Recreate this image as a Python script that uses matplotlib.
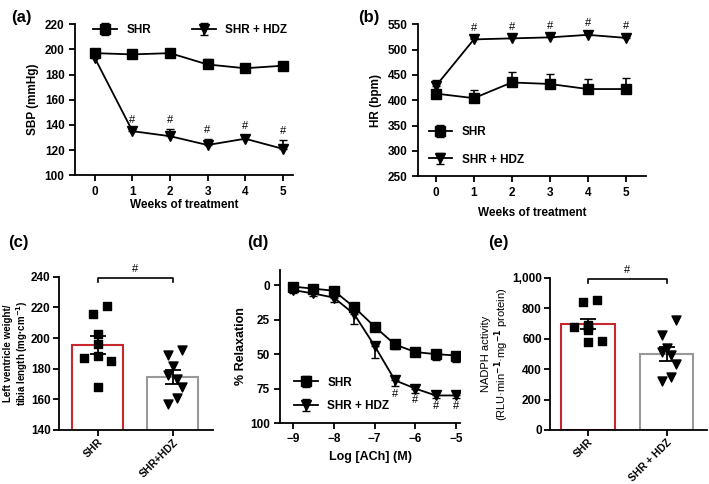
import matplotlib
matplotlib.use("Agg")
import matplotlib.pyplot as plt
import numpy as np

plt.rcParams['font.family'] = ['Liberation Sans', 'DejaVu Sans']
plt.rcParams['font.weight'] = 'bold'
plt.rcParams['axes.labelweight'] = 'bold'
plt.rcParams['font.size'] = 8

# (a) systolic blood pressure
weeks = [0, 1, 2, 3, 4, 5]
sbp_shr = [197, 196, 197, 188, 185, 187]
sbp_shr_err = [2, 3, 2, 4, 2, 2]
sbp_hdz = [193, 135, 131, 124, 129, 121]
sbp_hdz_err = [2, 2, 6, 5, 3, 7]

# (b) heart rate
hr_shr = [413, 404, 435, 432, 422, 422]
hr_shr_err = [6, 16, 20, 19, 20, 21]
hr_hdz = [428, 520, 522, 524, 529, 523]
hr_hdz_err = [12, 3, 3, 3, 3, 3]

# (c) LV weight / tibia length
lv_shr = [221, 216, 203, 196, 187, 188, 185, 168]
lv_hdz = [192, 189, 182, 176, 173, 168, 161, 157]
lv_sem = [6, 4.4]

# (d) ACh relaxation
log_ach = [-9, -8.5, -8, -7.5, -7, -6.5, -6, -5.5, -5]
rel_shr = [1, 2.5, 4, 16, 30, 43, 48.5, 50, 51]
rel_shr_err = [2, 2, 2, 3, 3, 3, 3, 4, 5]
rel_hdz = [3.5, 6, 9, 21, 44, 69, 75, 80, 80]
rel_hdz_err = [2, 2, 3, 7, 9, 4, 3, 2, 2]

# (e) NADPH activity
nadph_shr = [855, 840, 690, 680, 680, 660, 585, 575]
nadph_hdz = [725, 625, 540, 515, 495, 435, 345, 320]
nadph_sem = [35, 45]

fig = plt.figure(figsize=(7.09, 4.84), dpi=100)


def style(ax):
    for s in ['top', 'right']:
        ax.spines[s].set_visible(False)
    for s in ['left', 'bottom']:
        ax.spines[s].set_linewidth(1.3)
    ax.tick_params(width=1.3, length=4, labelsize=8.5)


def line_panel(ax, x, y1, e1, y2, e2):
    ax.errorbar(x, y1, yerr=[np.zeros(len(e1)), e1], color='black', marker='s',
                ms=7, lw=1.3, capsize=3, elinewidth=1.2, label='SHR')
    ax.errorbar(x, y2, yerr=[np.zeros(len(e2)), e2], color='black', marker='v',
                ms=7.5, lw=1.3, capsize=3, elinewidth=1.2, label='SHR + HDZ')


def hashes(ax, xs, ys, va):
    for x, y in zip(xs, ys):
        ax.text(x, y, '#', ha='center', va=va, fontsize=8, fontweight='normal')


# (a)
ax = fig.add_axes([0.1058, 0.638, 0.3072, 0.312])
line_panel(ax, weeks, sbp_shr, sbp_shr_err, sbp_hdz, sbp_hdz_err)
ax.set_xlim(-0.53, 5.27)
ax.set_ylim(100, 220)
ax.set_yticks(range(100, 221, 20))
ax.set_xticks(weeks)
ax.set_xlabel('Weeks of treatment', fontsize=8.5, labelpad=1)
ax.set_ylabel('SBP (mmHg)', fontsize=8.5)
hashes(ax, weeks[1:], [v + e + 3 for v, e in zip(sbp_hdz[1:], sbp_hdz_err[1:])], 'bottom')
ax.legend(loc='upper center', bbox_to_anchor=(0.53, 1.07), ncol=2, frameon=False,
          fontsize=8.5, handlelength=2, columnspacing=3.5)
style(ax)
fig.text(0.015, 0.955, '(a)', fontsize=12, fontweight='bold')

# (b)
ax = fig.add_axes([0.5896, 0.636, 0.3214, 0.314])
line_panel(ax, weeks, hr_shr, hr_shr_err, hr_hdz, hr_hdz_err)
ax.set_xlim(-0.47, 5.53)
ax.set_ylim(250, 550)
ax.set_yticks(range(250, 551, 50))
ax.set_xticks(weeks)
ax.set_xlabel('Weeks of treatment', fontsize=8.5, labelpad=6)
ax.set_ylabel('HR (bpm)', fontsize=8.5)
hashes(ax, weeks[1:], [v + e + 10 for v, e in zip(hr_hdz[1:], hr_hdz_err[1:])], 'bottom')
ax.legend(loc='lower left', bbox_to_anchor=(0.0, 0.0), frameon=False, fontsize=8.5,
          handlelength=2, labelspacing=1.3)
style(ax)
fig.text(0.505, 0.955, '(b)', fontsize=12, fontweight='bold')


def bar_panel(ax, a, b, sem, labels):
    means = [np.mean(a), np.mean(b)]
    ax.bar([0, 1], means, width=0.68, color='white', edgecolor=['#c8282d', '#999999'], lw=1.5)
    ax.errorbar([0, 1], means, yerr=sem, fmt='none', ecolor='black', capsize=6,
                elinewidth=1.3, capthick=1.3, zorder=4)
    xa = [0.12, -0.06, 0.0, 0.0, -0.18, 0.0, 0.18, 0.0]
    ax.scatter(np.array(xa), a, marker='s', s=36, color='black', zorder=5)
    xb = [0.12, -0.06, 0.0, -0.06, 0.06, 0.12, 0.06, -0.06]
    ax.scatter(1 + np.array(xb), b, marker='v', s=42, color='black', zorder=5)
    ax.set_xticks([0, 1])
    ax.set_xticklabels(labels, rotation=45, ha='right', rotation_mode='anchor')


# (c)
ax = fig.add_axes([0.0832, 0.1116, 0.2168, 0.3164])
bar_panel(ax, lv_shr, lv_hdz, lv_sem, ['SHR', 'SHR+HDZ'])
ax.set_xlim(-0.52, 1.53)
ax.set_ylim(140, 240)
ax.set_yticks(range(140, 241, 20))
ax.set_ylabel('Left ventricle weight/\ntibia length (mg·cm$^{-1}$)', fontsize=7, labelpad=1,
              linespacing=1.05)
ax.plot([0, 0, 1, 1], [236.5, 239.5, 239.5, 236.5], color='black', lw=1.2, clip_on=False)
ax.text(0.5, 242, '#', ha='center', va='bottom', fontsize=8, fontweight='normal')
style(ax)
ax.tick_params(axis='y', pad=2)
ax.tick_params(axis='x', labelsize=7.5, pad=1)
fig.text(0.012, 0.49, '(c)', fontsize=12, fontweight='bold')

# (d)
ax = fig.add_axes([0.395, 0.126, 0.254, 0.316])
line_panel(ax, log_ach, rel_shr, rel_shr_err, rel_hdz, rel_hdz_err)
ax.set_xlim(-9.32, -4.9)
ax.set_ylim(100, -11)
ax.set_yticks([0, 25, 50, 75, 100])
ax.set_xticks([-9, -8, -7, -6, -5])
ax.set_xticklabels(['\u22129', '\u22128', '\u22127', '\u22126', '\u22125'])
ax.set_xlabel('Log [ACh] (M)', fontsize=9, labelpad=4)
ax.set_ylabel('% Relaxation', fontsize=9, labelpad=2)
hashes(ax, log_ach[5:], [v + e + 2 for v, e in zip(rel_hdz[5:], rel_hdz_err[5:])], 'top')
ax.legend(loc='lower left', bbox_to_anchor=(0.02, 0.0), frameon=False, fontsize=8.5,
          handlelength=2, labelspacing=1.0)
style(ax)
fig.text(0.348, 0.49, '(d)', fontsize=12, fontweight='bold')

# (e)
ax = fig.add_axes([0.776, 0.1116, 0.221, 0.3144])
bar_panel(ax, nadph_shr, nadph_hdz, nadph_sem, ['SHR', 'SHR + HDZ'])
ax.set_xlim(-0.48, 1.51)
ax.set_ylim(0, 1000)
ax.set_yticks(range(0, 1001, 200))
ax.set_yticklabels(['0', '200', '400', '600', '800', '1,000'])
ax.set_ylabel('NADPH activity\n(RLU·min$^{-1}$·mg$^{-1}$ protein)', fontsize=8, labelpad=1,
              fontweight='normal', linespacing=1.05)
ax.plot([0, 0, 1, 1], [965, 995, 995, 965], color='black', lw=1.2, clip_on=False)
ax.text(0.5, 1020, '#', ha='center', va='bottom', fontsize=8, fontweight='normal')
style(ax)
ax.tick_params(axis='y', pad=2)
ax.tick_params(axis='x', labelsize=7.5, pad=1)
fig.text(0.688, 0.49, '(e)', fontsize=12, fontweight='bold')

fig.savefig('out.png', dpi=100)
